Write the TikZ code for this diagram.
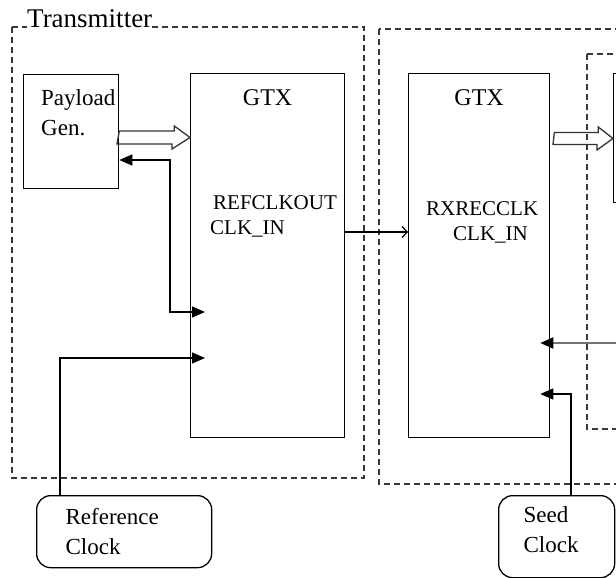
\documentclass[tikz,border=0pt]{standalone}
\usepackage{fontspec}
\setmainfont{Liberation Serif}
\usepackage{tikz}
\usetikzlibrary{arrows.meta, positioning, calc}
\definecolor{dashgray}{RGB}{55,55,55}
\definecolor{wiregray}{RGB}{115,115,115}

\begin{document}
\begin{tikzpicture}[x=1pt, y=-1pt, >={Triangle[length=13pt,width=11pt]}]
  \tikzstyle{block} = [rectangle, draw, line width=1.3pt, inner sep=0pt, anchor=north west]
  \tikzstyle{region} = [draw=dashgray, line width=1.3pt, dash pattern=on 6pt off 4pt]
  \tikzstyle{clock} = [rectangle, rounded corners=14pt, draw, line width=1.3pt, anchor=north west, align=left, inner ysep=0pt, font=\fontsize{23}{30}\selectfont]
  \tikzstyle{lbl} = [inner sep=0pt, font=\fontsize{24}{30}\selectfont]
  \tikzstyle{port} = [inner sep=0pt, anchor=base west, font=\fontsize{21}{25}\selectfont]
  \tikzstyle{bus} = [draw=black!80, line width=1.3pt, line join=miter]
  \tikzstyle{wire} = [line width=1.3pt]

  \useasboundingbox (0,0) rectangle (616,578);
  \clip (0,0) rectangle (616,578);

  % dashed regions
  \draw[region] (12,27) rectangle (364,478);
  \draw[region] (379,29) rectangle (640,484);
  \draw[region] (587,54) rectangle (640,429);
  \node[fill=white, inner xsep=0pt, inner ysep=2pt, anchor=base west, font=\fontsize{27}{30}\selectfont] (tx) at (27,28) {Transmitter};

  % blocks
  \node[block, minimum width=95pt, minimum height=114pt] (payload) at (23,74) {};
  \node[block, minimum width=154pt, minimum height=364pt] (gtxtx) at (190,73) {};
  \node[block, minimum width=141pt, minimum height=364pt] (gtxrx) at (408,73) {};
  \node[block, minimum width=40pt, minimum height=129pt] (rxnext) at (613,73) {};

  \node[lbl, align=left, anchor=north west, font=\fontsize{23}{30}\selectfont] (paytext) at (41,89) {Payload\\Gen.};
  \node[lbl, anchor=base] (txname) at (gtxtx.north |- 0,105) {GTX};
  \node[lbl, anchor=base] (rxname) at (gtxrx.north |- 0,105) {GTX};

  \node[port] (refout) at (213,209) {REFCLKOUT};
  \node[port] (clkintx) at (210,234) {CLK\_IN};
  \node[port] (rxrec) at (426,215) {RXRECCLK};
  \node[port] (clkinrx) at (453,240) {CLK\_IN};

  % clocks
  \node[clock, text width=117pt, inner xsep=29pt, minimum height=72pt] (refclk) at (36,495) {Reference\\Clock};
  \node[clock, text width=66pt, inner xsep=25pt, minimum height=82pt, text depth=44pt] (seedclk) at (498,495) {Seed\\Clock};

  % data buses (hollow arrows)
  \coordinate (txtail) at (payload.east |- 0,137.5);
  \coordinate (rxtail) at ($(gtxrx.east |- 0,138.5)+(4,0)$);
  \draw[bus] ($(txtail)+(0,-6.5)$) -- ++(55,0) -- ++(0,-5) -- (gtxtx.west |- txtail) -- ++(-18,11.5) -- ++(0,-5) -- ++(-55,0) -- cycle;
  \draw[bus] ($(rxtail)+(0,-6)$) -- ++(44,0) -- ++(0,-5.5) -- (rxnext.west |- rxtail) -- ++(-16,11.5) -- ++(0,-5.5) -- ++(-44,0) -- cycle;

  % clock wiring
  \coordinate (fbtop) at (170,160);
  \coordinate (fbin) at ($(gtxtx.west |- 0,312)+(15,0)$);
  \coordinate (refin) at ($(gtxtx.west |- 0,358)+(15,0)$);
  \coordinate (rxsrc) at (640,343);
  \coordinate (rxin) at ($(gtxrx.east |- rxsrc)+(-10,0)$);
  \coordinate (seedin) at ($(gtxrx.east |- 0,394)+(-10,0)$);

  \draw[wire, <->] (payload.east |- fbtop) -- (fbtop) |- (fbin);
  \draw[wire, ->] ($(refclk.north west)+(24,0)$) |- (refin);
  \draw[wire, -{Straight Barb[length=5pt,width=11pt]}] (gtxtx.east |- 0,232) -- (gtxrx.west |- 0,232);
  \draw[wire, draw=wiregray, line width=2pt, -{Triangle[length=13pt,width=11pt,color=black]}] (rxsrc) -- (rxin);
  \draw[wire, ->] ($(seedclk.north west)+(73,0)$) |- (seedin);
\end{tikzpicture}
\end{document}
